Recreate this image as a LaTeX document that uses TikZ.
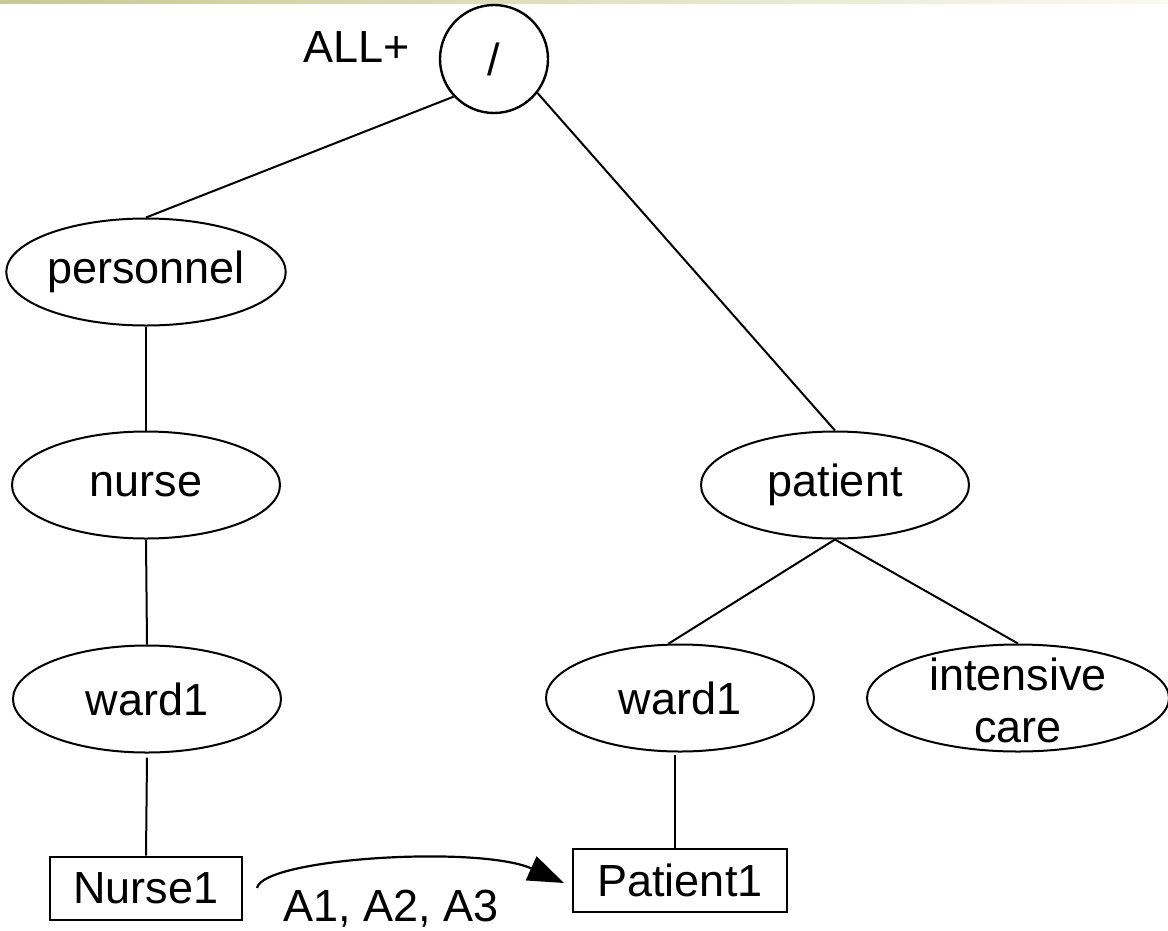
\documentclass[tikz,border=0pt]{standalone}
\usepackage{fontspec}
\setmainfont{Liberation Sans}
\usetikzlibrary{shapes.geometric,arrows.meta,calc}
\definecolor{barleft}{RGB}{200,200,148}
\definecolor{barright}{RGB}{250,250,242}
\tikzset{
  labelfont/.style={font=\fontsize{45}{52}\selectfont},
  rootnode/.style={draw, circle, line width=2.4pt, minimum size=108pt, inner sep=0pt, labelfont},
  termnode/.style={draw, ellipse, line width=2pt, minimum width=268pt, minimum height=107pt, inner sep=0pt, labelfont},
  objnode/.style={draw, rectangle, line width=2pt, minimum height=63pt, inner sep=0pt, labelfont},
  edge/.style={line width=2pt},
  access/.style={line width=2.2pt, -{Triangle[length=36pt,width=26pt]}}
}
\begin{document}
\begin{tikzpicture}[x=1pt,y=-1pt]
  \useasboundingbox (0,0) rectangle (1168,930);
  % header strip
  \shade[left color=barleft, right color=barright] (0,0) rectangle (1168,3.5);

  % root of the name space
  \node[rootnode] (root) at (494,59) {/};
  \node[labelfont, anchor=base] (all) at (357,62) {ALL+};

  % personnel branch
  \node[termnode] (personnel) at (146,272) {personnel};
  \node[termnode] (nurse) at (146,485) {nurse};
  \node[termnode] (wardA) at (147,699) {ward1};
  \node[objnode, minimum width=192pt] (nurse1) at (146,888) {Nurse1};

  % patient branch
  \node[termnode] (patient) at (835,485) {patient};
  \node[termnode] (wardB) at (680,698) {ward1};
  \node[termnode, minimum width=302pt] (icare) at (1018,698)
    {\raisebox{-14pt}[0pt][0pt]{\begin{tabular}{@{}c@{}}intensive\\care\end{tabular}}};
  \node[objnode, minimum width=214pt] (patient1) at (680,880) {Patient1};

  % tree edges
  \draw[edge] (root.223) -- (personnel.north);
  \draw[edge] (root.-38) -- (patient.north);
  \draw[edge] (personnel.south) -- (nurse.north);
  \draw[edge] (nurse.south) -- (wardA.north);
  \draw[edge] ([yshift=-4pt]wardA.south) -- (nurse1.north);
  \draw[edge] (patient.south) -- (wardB.102);
  \draw[edge] (patient.south) -- (icare.north);
  \draw[edge] ([xshift=-5pt,yshift=-2pt]wardB.south) -- ([xshift=-5pt]patient1.north);

  % access relation between the two objects
  \coordinate (from) at ([xshift=14pt]nurse1.east);
  \coordinate (to) at ([xshift=-8pt,yshift=-3pt]patient1.west);
  \draw[access] (from) .. controls ($(from)+(6,-30)$) and ($(to)+(-85,-38)$) .. (to);
  \node[labelfont, anchor=base] (rights) at (391,921) {A1, A2, A3};
\end{tikzpicture}
\end{document}
